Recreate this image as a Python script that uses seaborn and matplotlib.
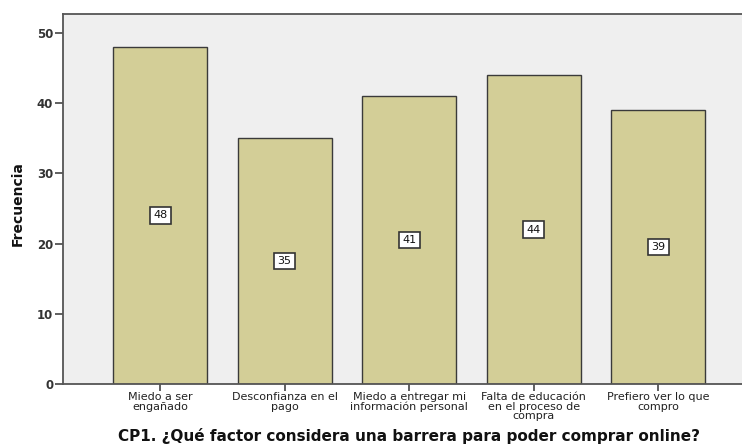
import matplotlib
matplotlib.use("Agg")
import matplotlib.pyplot as plt
import seaborn as sns
import pandas as pd

categories = ["Miedo a ser\nengañado", "Desconfianza en el\npago",
              "Miedo a entregar mi\ninformación personal",
              "Falta de educación\nen el proceso de\ncompra",
              "Prefiero ver lo que\ncompro"]
values = [48, 35, 41, 44, 39]
yticks = [0, 10, 20, 30, 40, 50]

sns.set_theme(style="white")
plt.rcParams['font.family'] = ['DejaVu Sans']

df = pd.DataFrame({"cat": categories, "val": values})

W, H = 742, 444
fig = plt.figure(figsize=(W/100, H/100), dpi=100)
left = 63 / W
bottom = (H - 384) / H
top = (H - 14) / H
axw = 5.56 * 124.5 / W
ax = fig.add_axes([left, bottom, axw, top - bottom])
ax.set_facecolor("#EFEFEF")

sns.barplot(data=df, x="cat", y="val", ax=ax, color="#D3CE97",
            saturation=1, width=0.755, edgecolor="#3a3a3a", linewidth=1.0)

ax.set_xlim(-0.78, 4.78)
ax.set_ylim(0, 52.7)
ax.set_yticks(yticks)
ax.tick_params(axis="y", direction="out", length=6, width=1.2, color="#444444",
               labelsize=8.5, labelcolor="#333333", pad=1, left=True)
ax.tick_params(axis="x", direction="out", length=5, width=1.2, color="#444444",
               pad=1, bottom=True)
ax.set_xticks(range(len(categories)))
ax.set_xticklabels(categories, fontsize=8, color="#222222", linespacing=0.92)
for lab in ax.get_yticklabels():
    lab.set_fontweight("bold")

for s in ax.spines.values():
    s.set_color("#555555")
    s.set_linewidth(1.3)

for i, v in enumerate(values):
    ax.text(i, v / 2, str(v), ha="center", va="center", fontsize=8,
            color="#111111",
            bbox=dict(boxstyle="square,pad=0.3", facecolor="white",
                      edgecolor="#333333", linewidth=1.2))

ax.set_xlabel("")
ax.set_ylabel("")
fig.text(18 / W, 1 - 204 / H, "Frecuencia", rotation=90, ha="center", va="center",
         fontsize=10, fontweight="bold", color="#111111")
fig.text(409 / W, 1 - 436 / H, "CP1. ¿Qué factor considera una barrera para poder comprar online?",
         ha="center", va="center", fontsize=11, fontweight="bold", color="#111111")

fig.savefig("out.png", dpi=100)
